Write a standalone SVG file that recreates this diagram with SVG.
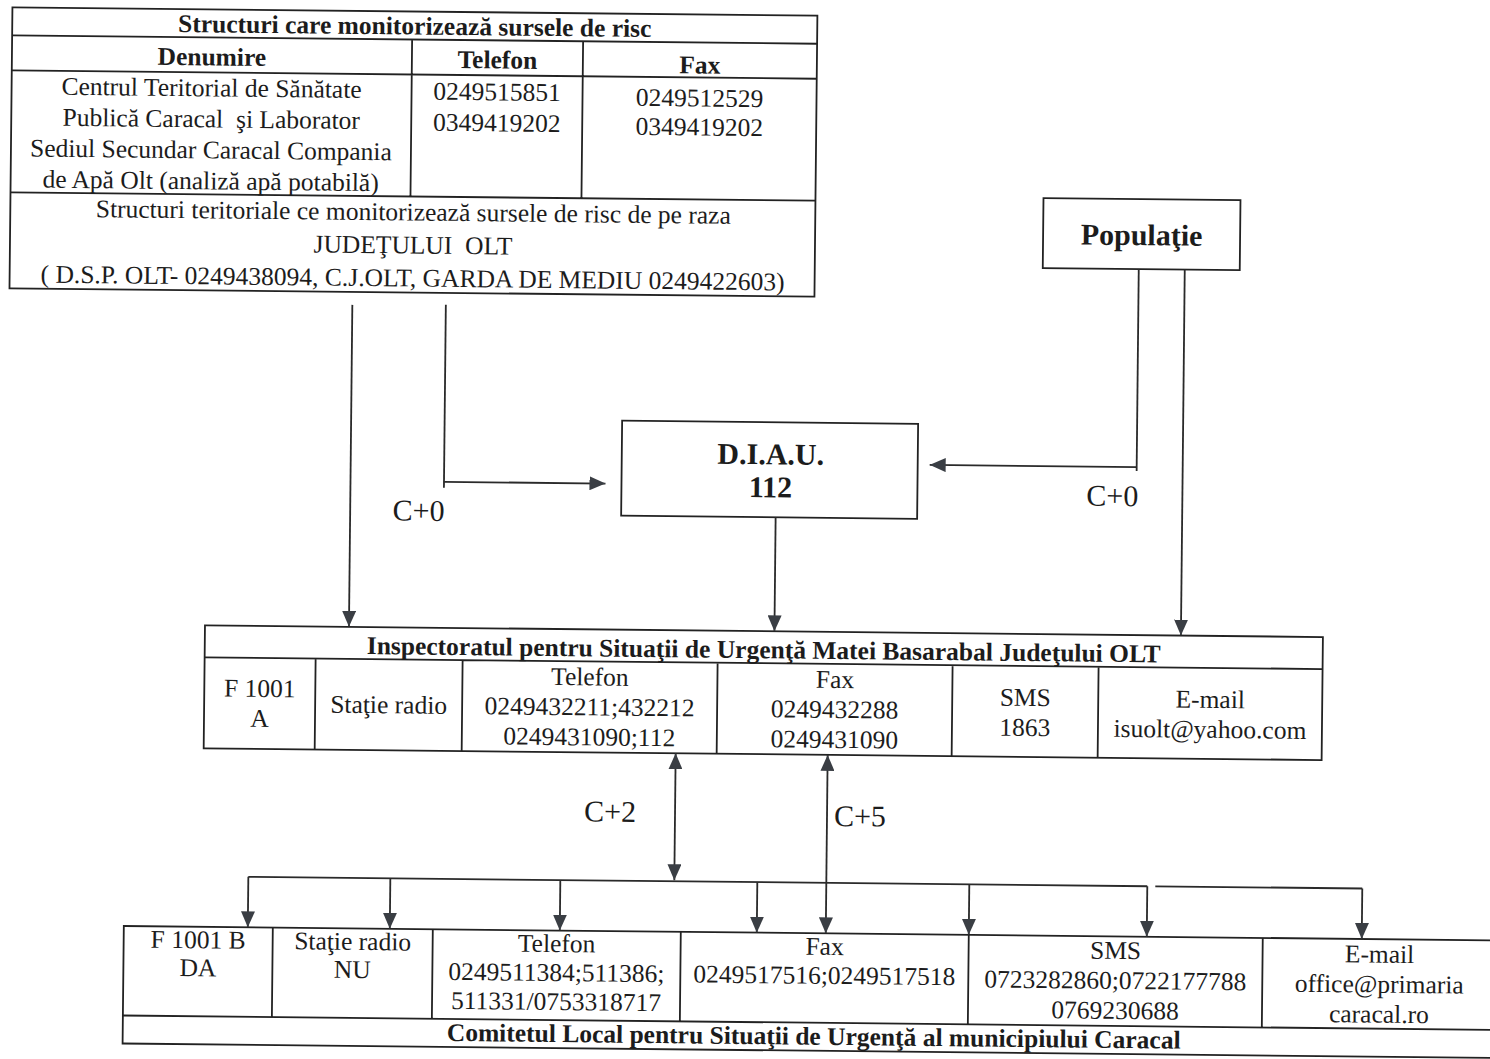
<svg xmlns="http://www.w3.org/2000/svg" width="1490" height="1059" viewBox="0 0 1490 1059">
<style>
.t{font-family:"Liberation Serif","Times New Roman",serif;font-size:25.5px;fill:#1c1c1c;text-anchor:middle}
.b{font-weight:bold}
.lbl{font-size:30px}
.big{font-size:30px;font-weight:bold}
.box{fill:none;stroke:#222;stroke-width:1.8}
.ln{fill:none;stroke:#222;stroke-width:1.8}
.con{fill:none;stroke:#2a2a2a;stroke-width:1.8}
.a{marker-end:url(#ah)}
.d{marker-start:url(#ah);marker-end:url(#ah)}
</style>
<defs>
<marker id="ah" markerUnits="userSpaceOnUse" markerWidth="16" markerHeight="14" refX="16" refY="7" orient="auto-start-reverse"><path d="M0,0 L16,7 L0,14 Z" fill="#3a3e44"/></marker>
</defs>
<rect width="1490" height="1059" fill="#fff"/>
<g transform="rotate(0.6 745 530)">
<g id="structuri">
<rect class="box" x="7" y="15" width="805" height="281"/>
<path class="ln" d="M7,43 H812 M7,78 H812 M7,200 H812 M407,43 V200 M578,43 V200"/>
<text class="t b" x="409.5" y="38">Structuri care monitorizează sursele de risc</text>
<text class="t b" x="207" y="71">Denumire</text>
<text class="t b" x="492.5" y="71">Telefon</text>
<text class="t b" x="695" y="74">Fax</text>
<text class="t" x="207" y="102">Centrul Teritorial de Sănătate</text>
<text class="t" x="207" y="133" xml:space="preserve">Publică Caracal  şi Laborator</text>
<text class="t" x="207" y="164">Sediul Secundar Caracal Compania</text>
<text class="t" x="207" y="195">de Apă Olt (analiză apă potabilă)</text>
<text class="t" x="492.5" y="103">0249515851</text>
<text class="t" x="492.5" y="134">0349419202</text>
<text class="t" x="695" y="107">0249512529</text>
<text class="t" x="695" y="136">0349419202</text>
<text class="t" x="410" y="224">Structuri teritoriale ce monitorizează sursele de risc de pe raza</text>
<text class="t" x="410" y="257" xml:space="preserve">JUDEŢULUI  OLT</text>
<text class="t" x="410" y="290">( D.S.P. OLT- 0249438094, C.J.OLT, GARDA DE MEDIU 0249422603)</text>
</g>
<g id="populatie">
<rect class="box" x="1040" y="195" width="197" height="70"/>
<text class="t big" x="1138.5" y="241">Populaţie</text>
</g>
<g id="diau">
<rect class="box" x="621" y="422" width="296" height="95"/>
<text class="t big" x="770" y="464">D.I.A.U.</text>
<text class="t big" x="770" y="497">112</text>
</g>
<g id="isu">
<rect class="box" x="206" y="631" width="1118" height="123"/>
<path class="ln" d="M206,663 H1324 M317,663 V754 M464,663 V754 M719,663 V754 M954,663 V754 M1100,663 V754"/>
<text class="t b" x="765" y="658">Inspectoratul pentru Situaţii de Urgenţă Matei Basarabal Judeţului OLT</text>
<text class="t" x="261.5" y="702">F 1001</text>
<text class="t" x="261.5" y="732">A</text>
<text class="t" x="390.5" y="717">Staţie radio</text>
<text class="t" x="591.5" y="687">Telefon</text>
<text class="t" x="591.5" y="717">0249432211;432212</text>
<text class="t" x="591.5" y="747">0249431090;112</text>
<text class="t" x="836.5" y="687">Fax</text>
<text class="t" x="836.5" y="717">0249432288</text>
<text class="t" x="836.5" y="747">0249431090</text>
<text class="t" x="1027" y="703">SMS</text>
<text class="t" x="1027" y="733">1863</text>
<text class="t" x="1212" y="703">E-mail</text>
<text class="t" x="1212" y="733">isuolt@yahoo.com</text>
</g>
<g id="comitet">
<rect class="box" x="128" y="932.5" width="1400" height="117.5"/>
<path class="ln" d="M128,1022 H1528 M277,932.5 V1022 M437,932.5 V1022 M685,932.5 V1022 M973,932.5 V1022 M1267,932.5 V1022"/>
<text class="t" x="202.5" y="954">F 1001 B</text>
<text class="t" x="202.5" y="982">DA</text>
<text class="t" x="357" y="954">Staţie radio</text>
<text class="t" x="357" y="982">NU</text>
<text class="t" x="561" y="954">Telefon</text>
<text class="t" x="561" y="983">0249511384;511386;</text>
<text class="t" x="561" y="1012">511331/0753318717</text>
<text class="t" x="829" y="954">Fax</text>
<text class="t" x="829" y="983">0249517516;0249517518</text>
<text class="t" x="1120" y="955">SMS</text>
<text class="t" x="1120" y="985">0723282860;0722177788</text>
<text class="t" x="1120" y="1015">0769230688</text>
<text class="t" x="1384" y="956">E-mail</text>
<text class="t" x="1384" y="986">office@primaria</text>
<text class="t" x="1384" y="1016">caracal.ro</text>
<text class="t b" x="819" y="1044">Comitetul Local pentru Situaţii de Urgenţă al municipiului Caracal</text>
</g>
<g id="connectors">
<path class="con a" d="M350,309 V631"/>
<path class="con" d="M443.5,308 V491"/>
<path class="con a" d="M443.5,485 H605"/>
<path class="con" d="M1136,265 V467"/>
<path class="con a" d="M1136,463 H929"/>
<path class="con a" d="M1182,265 V631"/>
<path class="con a" d="M775.5,517 V631"/>
<path class="con d" d="M678,754 V881"/>
<path class="con d" d="M830,754 V932.5"/>
<path class="con" d="M252,882 H1151 M1159,882 H1366"/>
<path class="con a" d="M252,882 V932.5"/>
<path class="con a" d="M394,882 V932.5"/>
<path class="con a" d="M564,882 V932.5"/>
<path class="con a" d="M761,882 V932.5"/>
<path class="con a" d="M973,882 V932.5"/>
<path class="con a" d="M1151,882 V932.5"/>
<path class="con a" d="M1366,882 V932.5"/>
<text class="t lbl" x="418.5" y="524">C+0</text>
<text class="t lbl" x="1112" y="502">C+0</text>
<text class="t lbl" x="613" y="823">C+2</text>
<text class="t lbl" x="863" y="825">C+5</text>
</g>
</g>
</svg>
